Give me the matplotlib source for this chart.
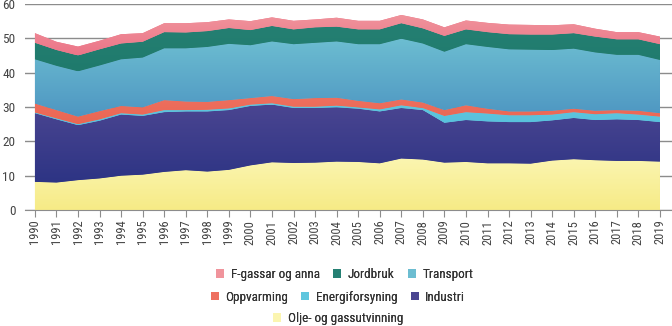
import numpy as np
import matplotlib.pyplot as plt
from matplotlib.colors import LinearSegmentedColormap
from matplotlib.patches import Patch
from matplotlib import font_manager

# condensed face if the system has one
names = {f.name for f in font_manager.fontManager.ttflist}
fam = [n for n in ['DejaVu Sans Condensed', 'Liberation Sans Narrow', 'Roboto Condensed'] if n in names]
plt.rcParams['font.family'] = fam + ['DejaVu Sans']
plt.rcParams['font.stretch'] = 'condensed'
print(fam)

years = list(range(1990, 2020))

olje = [8.2, 8.0, 8.7, 9.2, 10.0, 10.3, 11.1, 11.6, 11.2, 11.7, 13.0, 13.9, 13.7, 13.8, 14.1,
        14.0, 13.6, 15.0, 14.7, 13.8, 14.0, 13.6, 13.6, 13.5, 14.4, 14.8, 14.5, 14.3, 14.3, 14.1]
industri = [20.0, 18.4, 16.0, 16.8, 17.8, 17.1, 17.4, 17.1, 17.5, 17.4, 17.3, 16.8, 16.0, 15.9, 15.8,
            15.5, 15.1, 14.7, 14.4, 11.6, 12.2, 12.2, 12.0, 12.1, 11.7, 12.0, 11.7, 12.1, 11.9, 11.5]
energi = [0.2, 0.3, 0.3, 0.4, 0.4, 0.4, 0.6, 0.4, 0.5, 0.5, 0.4, 0.4, 0.4, 0.4, 0.5,
          0.4, 0.6, 0.8, 0.6, 2.0, 2.3, 2.3, 2.0, 2.0, 1.7, 1.7, 1.7, 1.8, 1.6, 1.6]
oppvarming = [2.6, 2.4, 2.2, 2.4, 2.1, 2.1, 2.9, 2.5, 2.3, 2.4, 1.9, 2.1, 2.2, 2.5, 2.3,
              1.9, 1.8, 1.7, 1.6, 1.7, 2.0, 1.4, 1.1, 1.1, 1.1, 1.0, 1.0, 0.9, 1.1, 1.0]
transport = [12.9, 12.9, 13.2, 13.3, 13.6, 14.5, 15.1, 15.5, 16.0, 16.4, 15.4, 15.9, 16.0, 16.1, 16.4,
             16.5, 17.2, 17.7, 17.2, 17.0, 17.8, 18.0, 18.1, 18.0, 17.7, 17.5, 17.0, 16.1, 16.3, 15.5]
jordbruk = [4.8, 4.6, 4.6, 4.7, 4.6, 4.6, 4.7, 4.6, 4.6, 4.6, 4.4, 4.5, 4.3, 4.5, 4.3,
            4.3, 4.3, 4.5, 4.4, 4.6, 4.3, 4.3, 4.4, 4.4, 4.5, 4.5, 4.6, 4.5, 4.5, 4.6]
fgass = [2.8, 2.4, 2.6, 2.5, 2.7, 2.5, 2.6, 2.7, 2.6, 2.5, 2.6, 2.5, 2.5, 2.3, 2.6,
         2.5, 2.5, 2.4, 2.6, 2.5, 2.6, 2.7, 2.8, 2.8, 2.7, 2.6, 2.3, 2.1, 2.1, 2.2]

series = [olje, industri, energi, oppvarming, transport, jordbruk, fgass]
labels = ['Olje- og gassutvinning', 'Industri', 'Energiforsyning', 'Oppvarming',
          'Transport', 'Jordbruk', 'F-gassar og anna']
# (bottom colour, top colour) for vertical gradient
grads = [('#f6eb86', '#fbf5b0'), ('#2d3484', '#4a4591'), ('#58c1dc', '#5fc6de'),
         ('#ea6652', '#ee7060'), ('#4e96c2', '#6cbdd1'), ('#1f7a6c', '#258073'),
         ('#ec7588', '#f0949c')]

fig = plt.figure(figsize=(6.72, 3.26), dpi=100)
ax = fig.add_axes([25/672, 1 - 210/326, 647/672, 206/326])

polys = ax.stackplot(years, *series, colors=[g[0] for g in grads], linewidth=0, zorder=2)

cum = np.cumsum(np.array(series), axis=0)
for i, poly in enumerate(polys):
    lo = 0 if i == 0 else cum[i - 1].min()
    hi = cum[i].max()
    cmap = LinearSegmentedColormap.from_list('g%d' % i, list(grads[i]))
    im = ax.imshow(np.linspace(0, 1, 100).reshape(-1, 1), cmap=cmap, aspect='auto',
                   origin='lower', extent=[years[0], years[-1], lo, hi], zorder=3)
    im.set_clip_path(poly.get_paths()[0], transform=ax.transData)

ax.set_xlim(1989.54, 2019.56)
ax.set_ylim(0, 60)
ax.set_yticks(range(0, 61, 10))
ax.set_xticks(years)
ax.set_xticklabels([str(y) for y in years], rotation=90)
ax.grid(axis='y', color='#8c8c8c', linewidth=1, zorder=1)
ax.set_axisbelow(True)
for s in ['left', 'right', 'top']:
    ax.spines[s].set_visible(False)
ax.spines['bottom'].set_color('#8c8c8c')
ax.spines['bottom'].set_zorder(4)
ax.tick_params(axis='y', length=0, pad=7, labelsize=9.5, labelcolor='#444444')
ax.tick_params(axis='x', length=5, color='#8c8c8c', labelsize=9, labelcolor='#444444', pad=2)

def row(idx, x, y):
    handles = [Patch(facecolor=grads[i][1], edgecolor='none') for i in idx]
    lg = fig.legend(handles, [labels[i] for i in idx], loc='center', bbox_to_anchor=(x, y),
                    ncol=len(idx), frameon=False, fontsize=9.5, handlelength=0.6, handleheight=0.6,
                    handletextpad=0.5, columnspacing=1.0, labelcolor='#333333',
                    borderpad=0, borderaxespad=0)
    fig.add_artist(lg)

row([6, 5, 4], 0.513, 0.158)
row([3, 2, 1], 0.503, 0.088)
row([0], 0.503, 0.022)

fig.savefig('out.png', dpi=100)
